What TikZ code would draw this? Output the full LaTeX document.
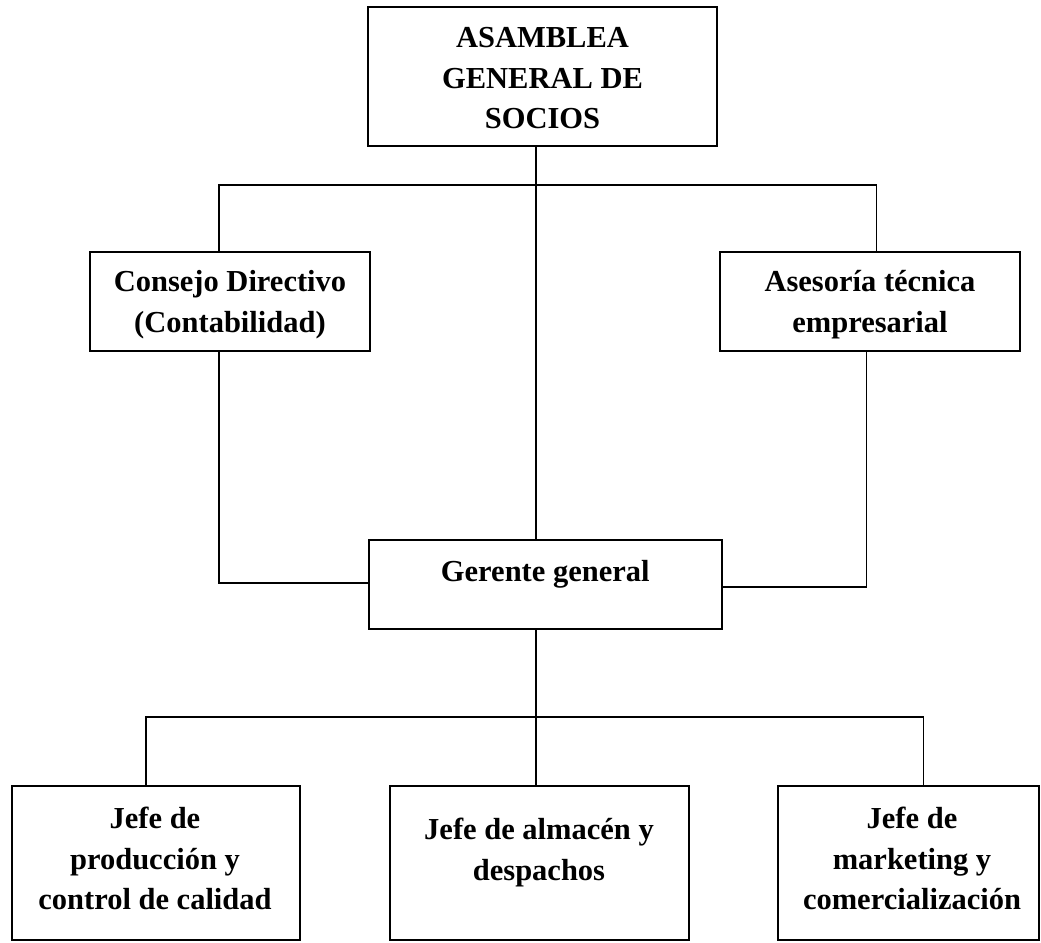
\documentclass[tikz,border=0pt]{standalone}
\usepackage{fontspec}
\setmainfont{Liberation Serif}
\begin{document}
\begin{tikzpicture}[x=1pt,y=-1pt,
  box/.style={draw, line width=2pt, inner sep=0pt, outer sep=0pt},
  lbl/.style={font=\bfseries\fontsize{30.5}{40.5}\selectfont, align=center, inner sep=0pt},
  conn/.style={line width=1.3pt}]
\useasboundingbox (0,0) rectangle (1041,942);
\fill[white] (0,0) rectangle (1041,942);
% boxes
\node[box, minimum width=349pt, minimum height=139pt] (asam) at (542.5,76.5) {};
\node[box, minimum width=280pt, minimum height=99pt] (cons) at (230,301.5) {};
\node[box, minimum width=300pt, minimum height=99pt] (ases) at (870,301.5) {};
\node[box, minimum width=353.5pt, minimum height=89pt] (ger) at (545.25,584.5) {};
\node[box, minimum width=288pt, minimum height=154pt] (prod) at (156,863) {};
\node[box, minimum width=298.6pt, minimum height=154pt] (alm) at (539.3,863) {};
\node[box, minimum width=261pt, minimum height=154pt] (mkt) at (908.5,863) {};
% texts
\node[lbl] (asamT) at (542.5,80) {ASAMBLEA\strut\\GENERAL DE\strut\\SOCIOS\strut};
\node[lbl] (consT) at (230,304) {Consejo Directivo\strut\\(Contabilidad)\strut};
\node[lbl] (asesT) at (870,304) {Asesoría técnica\strut\\empresarial\strut};
\node[lbl] (gerT) at (545.25,573) {Gerente general\strut};
\node[lbl] (prodT) at (155,861) {Jefe de\strut\\producción y\strut\\control de calidad\strut};
\node[lbl] (almT) at (539,852) {Jefe de almacén y\strut\\despachos\strut};
\node[lbl] (mktT) at (912,861) {Jefe de\strut\\marketing y\strut\\comercialización\strut};
% connectors
\coordinate (cx) at (536,0);
\coordinate (hl) at (219,185);
\coordinate (hr) at (876.5,185);
\coordinate (gl) at (219,583);
\coordinate (gr) at (866.5,587);
\coordinate (bl) at (146,717);
\coordinate (br) at (923.5,717);
\draw[conn] (asam.south -| cx) -- (ger.north -| cx);
\draw[conn] (cons.north -| hl) -- (hl) -- (hr) -- (ases.north -| hr);
\draw[conn] (cons.south -| gl) -- (gl) -- (gl -| ger.west);
\draw[conn] (ases.south -| gr) -- (gr) -- (gr -| ger.east);
\draw[conn] (ger.south -| cx) -- (alm.north -| cx);
\draw[conn] (prod.north -| bl) -- (bl) -- (br) -- (mkt.north -| br);
\end{tikzpicture}
\end{document}
